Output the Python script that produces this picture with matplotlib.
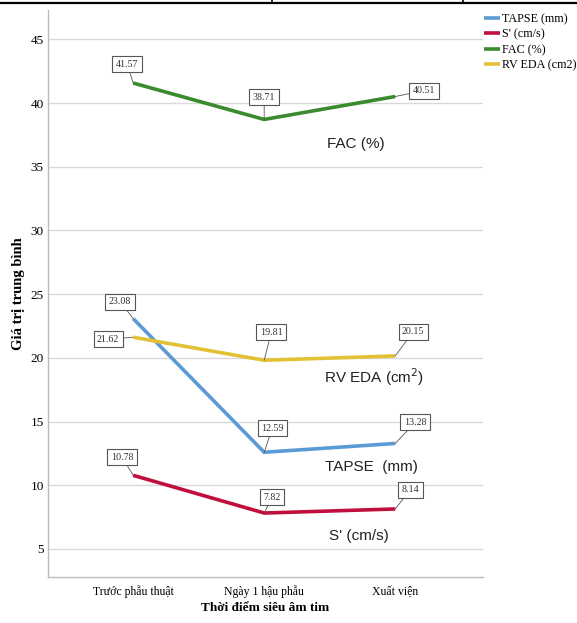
import numpy as np
import matplotlib
matplotlib.use("Agg")
from matplotlib import pyplot as plt

# data
categories = ["Trước phẫu thuật", "Ngày 1 hậu phẫu", "Xuất viện"]
tapse = [23.08, 12.59, 13.28]
s_prime = [10.78, 7.82, 8.14]
fac = [41.57, 38.71, 40.51]
rv_eda = [21.62, 19.81, 20.15]
series_names = ["TAPSE (mm)", "S' (cm/s)", "FAC (%)", "RV EDA (cm2)"]
y_ticks = [5, 10, 15, 20, 25, 30, 35, 40, 45]

colors = ["#5B9BD5", "#C00F3C", "#3A8A2E", "#E2C234"]
# offsets (pixels) of the value boxes relative to each point
offsets = [
    [(-13, 17), (8, 24), (20, 21)],
    [(-11, 18), (8, 16), (15, 19)],
    [(-6, 19), (0, 22), (29, 6)],
    [(-25, -2), (7, 28), (18, 24)],
]

SERIF = "Liberation Serif"
SANS = "Liberation Sans"

fig = plt.figure(figsize=(5.77, 6.23), dpi=100)
ax = fig.add_axes([48 / 577, 1 - 577 / 623, (483 - 48) / 577, (577 - 10) / 623])

x = np.arange(len(categories))
all_series = [tapse, s_prime, fac, rv_eda]
for vals, name, col, offs in zip(all_series, series_names, colors, offsets):
    ax.plot(x, vals, color=col, lw=2.6, label=name, solid_capstyle="butt", zorder=3)
    for xi, v, (dx, dy) in zip(x, vals, offs):
        ax.annotate("%.2f" % v, xy=(xi, v), xytext=(dx, dy), textcoords="offset pixels",
                    ha="center", va="center", fontsize=7.2, family=SERIF, color="#333333",
                    bbox=dict(boxstyle="square,pad=0.35", fc="white", ec="#555555", lw=0.8),
                    arrowprops=dict(arrowstyle="-", color="#555555", lw=0.6,
                                    shrinkA=0, shrinkB=0), zorder=4)

# series names written inside the chart
ax.text(1.7, 36.8, "FAC (%)", fontsize=11, family=SANS, color="#222222", ha="center", va="center")
ax.text(1.84, 18.5, "RV EDA (cm$^2$)", fontsize=11, family=SANS, color="#222222", ha="center", va="center")
ax.text(1.82, 11.4, "TAPSE  (mm)", fontsize=11, family=SANS, color="#222222", ha="center", va="center")
ax.text(1.72, 6.0, "S' (cm/s)", fontsize=11, family=SANS, color="#222222", ha="center", va="center")

ax.set_xlim(-0.65, 2.67)
ax.set_ylim(2.8, 47.3)
ax.set_yticks(y_ticks)
ax.set_xticks(x)
ax.set_xticklabels(categories, family=SERIF, fontsize=8.5)
for lab in ax.get_yticklabels():
    lab.set_family(SERIF)
    lab.set_fontsize(9.5)
ax.tick_params(axis="y", length=0, pad=3)
ax.tick_params(axis="x", length=0, pad=6)
ax.grid(axis="y", color="#D9D9D9", lw=1)
ax.set_axisbelow(True)
for side in ["top", "right"]:
    ax.spines[side].set_visible(False)
for side in ["left", "bottom"]:
    ax.spines[side].set_color("#BBBBBB")
    ax.spines[side].set_linewidth(1)

ax.set_ylabel("Giá trị trung bình", family=SERIF, fontsize=10.5, fontweight="bold", labelpad=4)
ax.set_xlabel("Thời điểm siêu âm tim", family=SERIF, fontsize=9.5, fontweight="bold", labelpad=3)

leg = fig.legend(loc="upper left", bbox_to_anchor=(479 / 577, 1 - 8 / 623), frameon=False,
                 prop={"family": SERIF, "size": 8.7}, handlelength=1.3, handletextpad=0.2,
                 labelspacing=0.3, borderaxespad=0)

# cropped table border at the top of the picture
fig.add_artist(plt.Line2D([0, 1], [1 - 3 / 623, 1 - 3 / 623], color="black", lw=1.6))
for xp in [272, 463]:
    fig.add_artist(plt.Line2D([xp / 577, xp / 577], [1, 1 - 3 / 623], color="black", lw=1.2))

fig.savefig("out.png", dpi=100)
